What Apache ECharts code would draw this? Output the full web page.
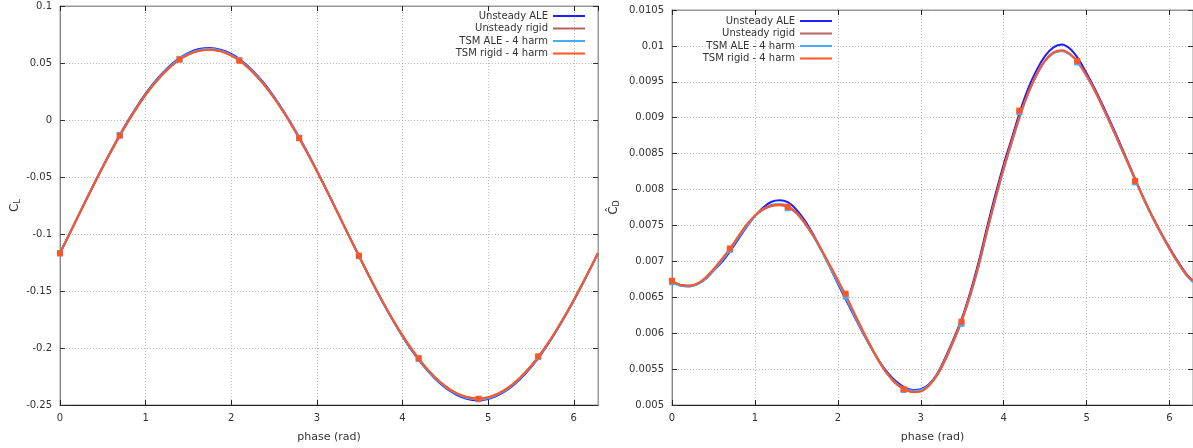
<!DOCTYPE html>
<html>
<head>
<meta charset="utf-8">
<script src="https://cdn.jsdelivr.net/npm/echarts@6/dist/echarts.min.js"></script>
<style>
html,body{margin:0;padding:0;background:#fff;}
#chart{width:1193px;height:448px;}
</style>
</head>
<body>
<div id="chart"></div>
<script>
// ---------- DATA ----------
const seriesNames = ['Unsteady ALE', 'Unsteady rigid', 'TSM ALE - 4 harm', 'TSM rigid - 4 harm'];

// Lift coefficient (left panel)
const phaseCL = [0, 0.125, 0.25, 0.375, 0.5, 0.625, 0.75, 0.875, 1.0, 1.125, 1.25, 1.375, 1.5, 1.625, 1.75, 1.875,
  2.0, 2.125, 2.25, 2.375, 2.5, 2.625, 2.75, 2.875, 3.0, 3.125, 3.25, 3.375, 3.5, 3.625, 3.75, 3.875,
  4.0, 4.125, 4.25, 4.375, 4.5, 4.625, 4.75, 4.875, 5.0, 5.125, 5.25, 5.375, 5.5, 5.625, 5.75, 5.875,
  6.0, 6.125, 6.25, 6.2832];
const clUnsteadyALE = [-0.1169, -0.0977, -0.0784, -0.0594, -0.0407, -0.0230, -0.0062, 0.0092, 0.0231, 0.0351,
  0.0452, 0.0532, 0.0589, 0.0622, 0.0632, 0.0617, 0.0579, 0.0518, 0.0433, 0.0329, 0.0204, 0.0062, -0.0095,
  -0.0264, -0.0444, -0.0631, -0.0823, -0.1016, -0.1207, -0.1394, -0.1573, -0.1742, -0.1898, -0.2039, -0.2162,
  -0.2266, -0.2348, -0.2408, -0.2445, -0.2458, -0.2447, -0.2411, -0.2353, -0.2272, -0.2170, -0.2048, -0.1908,
  -0.1753, -0.1586, -0.1406, -0.1220, -0.1169];
const clUnsteadyRigid = [-0.1168, -0.0978, -0.0787, -0.0598, -0.0413, -0.0237, -0.0072, 0.0081, 0.0219, 0.0338,
  0.0439, 0.0518, 0.0575, 0.0608, 0.0618, 0.0604, 0.0566, 0.0505, 0.0421, 0.0317, 0.0194, 0.0054, -0.0102,
  -0.0271, -0.0449, -0.0635, -0.0825, -0.1016, -0.1205, -0.1391, -0.1569, -0.1736, -0.1891, -0.2030, -0.2152,
  -0.2255, -0.2336, -0.2396, -0.2432, -0.2445, -0.2434, -0.2399, -0.2340, -0.2260, -0.2160, -0.2039, -0.1900,
  -0.1746, -0.1580, -0.1402, -0.1218, -0.1168];
const clTsmALE = [-0.1168, -0.0977, -0.0785, -0.0595, -0.0410, -0.0233, -0.0066, 0.0087, 0.0225, 0.0345,
  0.0445, 0.0525, 0.0581, 0.0614, 0.0624, 0.0610, 0.0571, 0.0511, 0.0426, 0.0322, 0.0198, 0.0057, -0.0099,
  -0.0267, -0.0447, -0.0632, -0.0824, -0.1015, -0.1206, -0.1391, -0.1570, -0.1738, -0.1894, -0.2033, -0.2156,
  -0.2259, -0.2341, -0.2401, -0.2438, -0.2450, -0.2440, -0.2404, -0.2346, -0.2265, -0.2164, -0.2042, -0.1903,
  -0.1749, -0.1582, -0.1403, -0.1219, -0.1168];
const clTsmRigid = [-0.1167, -0.0977, -0.0786, -0.0597, -0.0412, -0.0236, -0.0070, 0.0082, 0.0220, 0.0339,
  0.0439, 0.0518, 0.0574, 0.0607, 0.0617, 0.0603, 0.0565, 0.0504, 0.0420, 0.0316, 0.0193, 0.0053, -0.0103,
  -0.0271, -0.0449, -0.0634, -0.0824, -0.1015, -0.1204, -0.1389, -0.1567, -0.1734, -0.1889, -0.2028, -0.2150,
  -0.2253, -0.2334, -0.2394, -0.2430, -0.2443, -0.2432, -0.2397, -0.2339, -0.2259, -0.2158, -0.2037, -0.1899,
  -0.1745, -0.1579, -0.1401, -0.1217, -0.1167];

// TSM time instances (9 = 2*4+1)
const tsmPhase = [0, 0.698, 1.396, 2.094, 2.793, 3.491, 4.189, 4.887, 5.585];
const clTsmALEPts = [-0.1168, -0.0132, 0.0535, 0.0525, -0.0155, -0.1195, -0.2095, -0.2450, -0.2078];
const clTsmRigidPts = [-0.1170, -0.0138, 0.0530, 0.0520, -0.0160, -0.1190, -0.2090, -0.2445, -0.2073];

// Drag coefficient (right panel)
const phaseCD = [0, 0.1, 0.2, 0.3, 0.4, 0.5, 0.6, 0.7, 0.8, 0.9,
  1.0, 1.1, 1.2, 1.3, 1.4, 1.5, 1.6, 1.7, 1.8, 1.9,
  2.0, 2.1, 2.2, 2.3, 2.4, 2.5, 2.6, 2.7, 2.8, 2.9,
  3.0, 3.1, 3.2, 3.3, 3.4, 3.5, 3.6, 3.7, 3.8, 3.9,
  4.0, 4.1, 4.2, 4.3, 4.4, 4.5, 4.6, 4.7, 4.8, 4.9,
  5.0, 5.1, 5.2, 5.3, 5.4, 5.5, 5.6, 5.7, 5.8, 5.9,
  6.0, 6.1, 6.2, 6.2832];
const cdUnsteadyALE = [0.00672, 0.00667, 0.00666, 0.00668, 0.00675, 0.00687, 0.00699, 0.00714, 0.00731, 0.00748,
  0.00763, 0.00775, 0.00783, 0.00785, 0.00782, 0.00772, 0.00757, 0.00738, 0.00716, 0.00693,
  0.00669, 0.00646, 0.00623, 0.00601, 0.00580, 0.00561, 0.00545, 0.00533, 0.00525, 0.00521,
  0.00522, 0.00529, 0.00544, 0.00567, 0.00593, 0.00622, 0.00658, 0.00700, 0.00748, 0.00793,
  0.00835, 0.00872, 0.00910, 0.00942, 0.00967, 0.00986, 0.00998, 0.01002, 0.00996, 0.00982,
  0.00962, 0.00940, 0.00916, 0.00891, 0.00865, 0.00838, 0.00811, 0.00785, 0.00761, 0.00739,
  0.00719, 0.00700, 0.00683, 0.00673];
const cdUnsteadyRigid = [0.00672, 0.00667, 0.00665, 0.00668, 0.00676, 0.00688, 0.00702, 0.00717, 0.00734, 0.00750,
  0.00763, 0.00772, 0.00777, 0.00778, 0.00775, 0.00767, 0.00753, 0.00736, 0.00716, 0.00694,
  0.00672, 0.00649, 0.00626, 0.00603, 0.00581, 0.00561, 0.00543, 0.00530, 0.00522, 0.00518,
  0.00519, 0.00527, 0.00542, 0.00564, 0.00590, 0.00619, 0.00654, 0.00695, 0.00742, 0.00787,
  0.00829, 0.00867, 0.00904, 0.00935, 0.00960, 0.00979, 0.00990, 0.00993, 0.00988, 0.00976,
  0.00958, 0.00937, 0.00913, 0.00888, 0.00862, 0.00836, 0.00810, 0.00784, 0.00760, 0.00738,
  0.00718, 0.00699, 0.00682, 0.00672];
const cdTsmALE = [0.00671, 0.00666, 0.00665, 0.00668, 0.00675, 0.00687, 0.00701, 0.00716, 0.00733, 0.00749,
  0.00763, 0.00773, 0.00779, 0.00780, 0.00777, 0.00768, 0.00754, 0.00736, 0.00715, 0.00693,
  0.00671, 0.00649, 0.00625, 0.00602, 0.00580, 0.00560, 0.00543, 0.00531, 0.00523, 0.00520,
  0.00521, 0.00528, 0.00543, 0.00565, 0.00591, 0.00619, 0.00653, 0.00694, 0.00741, 0.00786,
  0.00828, 0.00866, 0.00903, 0.00935, 0.00960, 0.00979, 0.00990, 0.00993, 0.00988, 0.00976,
  0.00958, 0.00937, 0.00913, 0.00888, 0.00862, 0.00836, 0.00810, 0.00784, 0.00760, 0.00738,
  0.00717, 0.00698, 0.00681, 0.00671];
const cdTsmRigid = [0.00673, 0.00667, 0.00666, 0.00669, 0.00677, 0.00689, 0.00703, 0.00718, 0.00735, 0.00751,
  0.00764, 0.00773, 0.00778, 0.00779, 0.00776, 0.00768, 0.00754, 0.00737, 0.00717, 0.00696,
  0.00674, 0.00652, 0.00628, 0.00604, 0.00581, 0.00560, 0.00543, 0.00530, 0.00522, 0.00518,
  0.00519, 0.00527, 0.00542, 0.00564, 0.00591, 0.00620, 0.00655, 0.00696, 0.00743, 0.00788,
  0.00830, 0.00868, 0.00905, 0.00936, 0.00961, 0.00980, 0.00991, 0.00994, 0.00989, 0.00977,
  0.00959, 0.00938, 0.00914, 0.00889, 0.00863, 0.00837, 0.00810, 0.00785, 0.00761, 0.00739,
  0.00718, 0.00699, 0.00682, 0.00673];
const cdTsmALEPts = [0.00671, 0.00716, 0.00774, 0.00651, 0.00521, 0.00613, 0.00908, 0.00977, 0.00810];
const cdTsmRigidPts = [0.00673, 0.00718, 0.00776, 0.00655, 0.00522, 0.00616, 0.00910, 0.00979, 0.00812];

// ---------- STYLE ----------
const colors = ['#1f1fff', '#b8625c', '#4aa8ff', '#ff5522'];
const FONT = 'DejaVu Sans';
const TWO_PI = 2 * Math.PI;

function pairs(xs, ys) { return xs.map((x, i) => [x, ys[i]]); }

function lineSeries(name, idx, xs, ys, axisIdx) {
  return {
    type: 'line', name: name, xAxisIndex: axisIdx * 2, yAxisIndex: axisIdx * 2,
    data: pairs(xs, ys), showSymbol: false, smooth: 0.3, clip: true,
    lineStyle: { color: colors[idx], width: 2 }, itemStyle: { color: colors[idx] },
    animation: false
  };
}
function ptsSeries(name, idx, xs, ys, axisIdx) {
  return {
    type: 'scatter', name: name, xAxisIndex: axisIdx * 2, yAxisIndex: axisIdx * 2,
    data: pairs(xs, ys), symbol: 'rect', symbolSize: 6, clip: true,
    itemStyle: { color: colors[idx], opacity: 1 }, animation: false, z: 3
  };
}

function fmtNum(v) { return String(parseFloat(v.toFixed(6))); }

function xAxes(grid) {
  return [{
    gridIndex: grid, type: 'value', min: 0, max: TWO_PI, interval: 1, position: 'bottom',
    axisLine: { onZero: false, lineStyle: { color: '#222', width: 1 } },
    axisTick: { inside: true, length: 5, lineStyle: { color: '#222' } },
    axisLabel: { showMaxLabel: false, fontSize: 10, color: '#333', margin: 8, fontFamily: FONT,
      formatter: v => fmtNum(v) },
    splitLine: { show: true, lineStyle: { type: [1, 2], color: '#bdbdbd', width: 1 } },
    name: 'phase (rad)', nameLocation: 'middle', nameGap: 27,
    nameTextStyle: { fontSize: 11, color: '#333', fontFamily: FONT }
  }, {
    gridIndex: grid, type: 'value', min: 0, max: TWO_PI, interval: 1, position: 'top',
    axisLine: { onZero: false, lineStyle: { color: '#999', width: 1 } },
    axisTick: { inside: true, length: 5, lineStyle: { color: '#222' } },
    axisLabel: { show: false }, splitLine: { show: false }
  }];
}
function yAxes(grid, min, max, interval, name, gap) {
  return [{
    gridIndex: grid, type: 'value', min: min, max: max, interval: interval, position: 'left',
    axisLine: { onZero: false, lineStyle: { color: '#888', width: 1 } },
    axisTick: { inside: true, length: 5, lineStyle: { color: '#333' } },
    axisLabel: { fontSize: 10, color: '#333', margin: 8, fontFamily: FONT, formatter: v => fmtNum(v) },
    splitLine: { show: true, lineStyle: { type: [1, 2], color: '#bdbdbd', width: 1 } },
    name: name, nameLocation: 'middle', nameRotate: 90, nameGap: gap,
    nameTextStyle: { fontSize: 12, color: '#333', fontFamily: FONT,
      rich: { s: { fontSize: 8, color: '#333', fontFamily: FONT, padding: [6, 0, 0, 0] } } }
  }, {
    gridIndex: grid, type: 'value', min: min, max: max, interval: interval, position: 'right',
    axisLine: { onZero: false, lineStyle: { color: '#999', width: 1 } },
    axisTick: { inside: true, length: 5, lineStyle: { color: '#333' } },
    axisLabel: { show: false }, splitLine: { show: false }
  }];
}
function legendCfg(right, top) {
  return {
    data: seriesNames, orient: 'vertical', right: right, top: top, align: 'right',
    icon: 'rect', itemWidth: 32, itemHeight: 2, itemGap: 0.5, padding: 0, selectedMode: false,
    textStyle: { fontSize: 10, color: '#333', fontFamily: FONT, lineHeight: 12 }
  };
}

const chart = echarts.init(document.getElementById('chart'), null, { renderer: 'canvas' });
chart.setOption({
  animation: false,
  backgroundColor: '#fff',
  textStyle: { fontFamily: FONT },
  grid: [
    { left: 60, top: 6, width: 538, height: 402, show: true, borderColor: '#999', borderWidth: 1, backgroundColor: 'transparent' },
    { left: 672, top: 10, width: 527, height: 402, show: true, borderColor: '#999', borderWidth: 1, backgroundColor: 'transparent' }
  ],
  xAxis: xAxes(0).concat(xAxes(1)),
  yAxis: yAxes(0, -0.25, 0.1, 0.05, 'C{s|L}', 37).concat(yAxes(1, 0.005, 0.0105, 0.0005, 'Ĉ{s|D}', 51)),
  legend: [legendCfg(608, 10), legendCfg(361, 15)],
  series: [
    lineSeries(seriesNames[0], 0, phaseCL, clUnsteadyALE, 0),
    lineSeries(seriesNames[1], 1, phaseCL, clUnsteadyRigid, 0),
    lineSeries(seriesNames[2], 2, phaseCL, clTsmALE, 0),
    lineSeries(seriesNames[3], 3, phaseCL, clTsmRigid, 0),
    ptsSeries('TSM ALE points', 2, tsmPhase, clTsmALEPts, 0),
    ptsSeries('TSM rigid points', 3, tsmPhase, clTsmRigidPts, 0),
    lineSeries(seriesNames[0], 0, phaseCD, cdUnsteadyALE, 1),
    lineSeries(seriesNames[1], 1, phaseCD, cdUnsteadyRigid, 1),
    lineSeries(seriesNames[2], 2, phaseCD, cdTsmALE, 1),
    lineSeries(seriesNames[3], 3, phaseCD, cdTsmRigid, 1),
    ptsSeries('TSM ALE points', 2, tsmPhase, cdTsmALEPts, 1),
    ptsSeries('TSM rigid points', 3, tsmPhase, cdTsmRigidPts, 1)
  ]
});
</script>
</body>
</html>
